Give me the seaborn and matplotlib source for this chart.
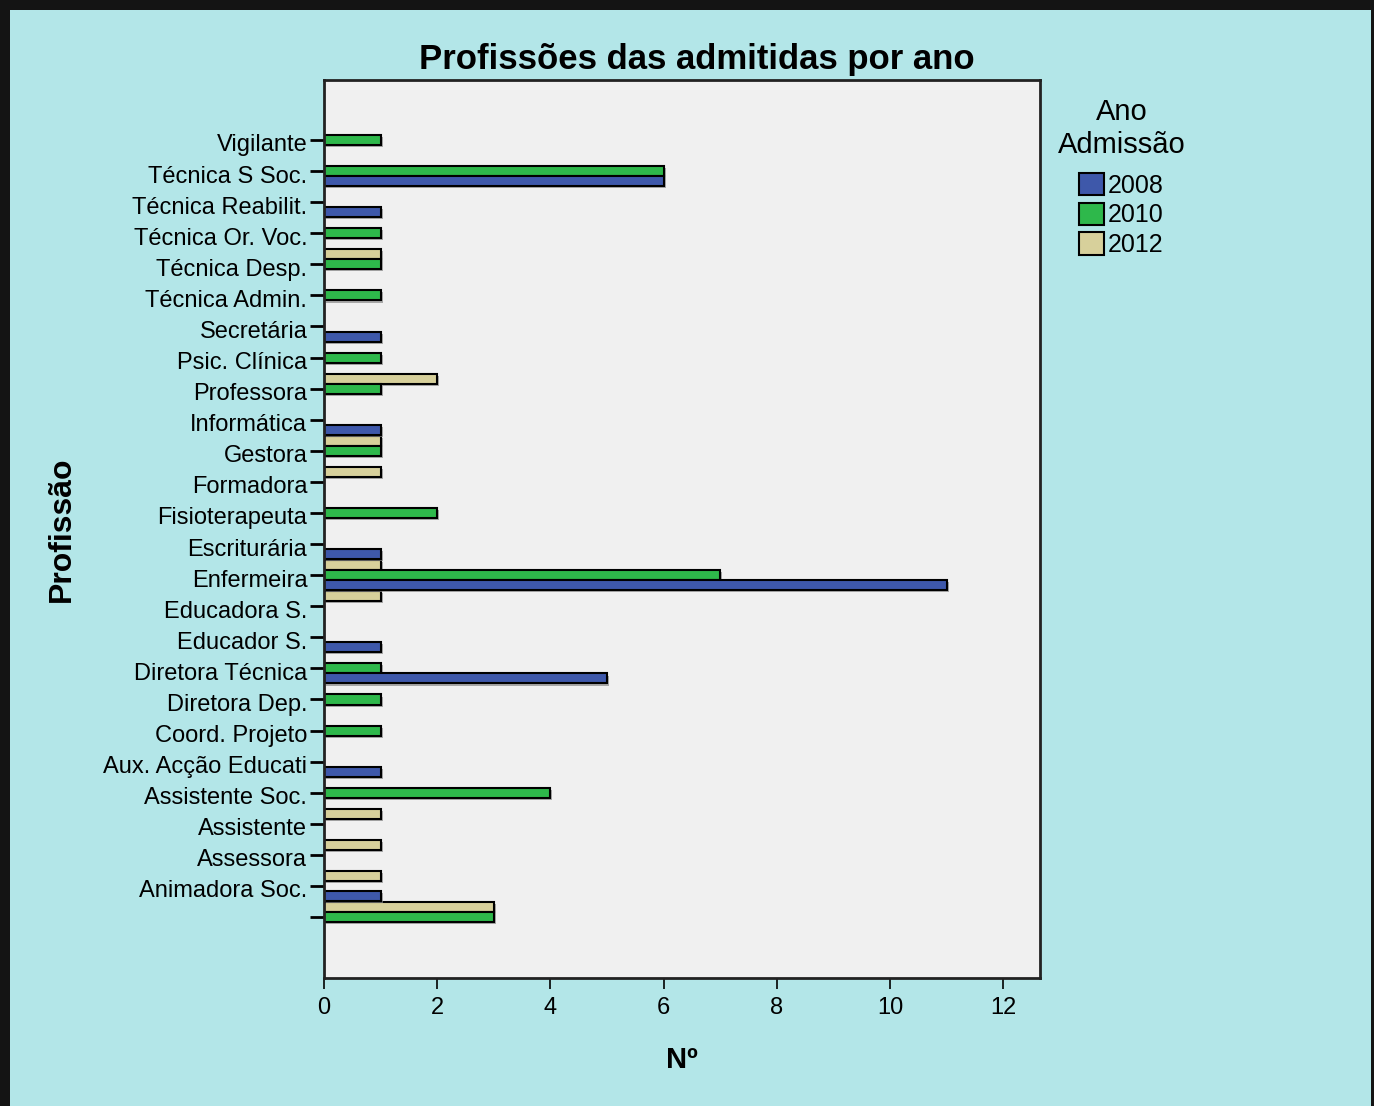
import matplotlib
matplotlib.use("Agg")
import matplotlib.pyplot as plt
import matplotlib.patheffects as pe
from matplotlib.patches import Rectangle, Patch
from matplotlib.transforms import ScaledTranslation
import pandas as pd
import seaborn as sns

# Categories top to bottom ("" = sem resposta)
professions = ["Vigilante", "Técnica S Soc.", "Técnica Reabilit.", "Técnica Or. Voc.",
               "Técnica Desp.", "Técnica Admin.", "Secretária", "Psic. Clínica",
               "Professora", "Informática", "Gestora", "Formadora", "Fisioterapeuta",
               "Escriturária", "Enfermeira", "Educadora S.", "Educador S.",
               "Diretora Técnica", "Diretora Dep.", "Coord. Projeto", "Aux. Acção Educati",
               "Assistente Soc.", "Assistente", "Assessora", "Animadora Soc.", ""]
n_2008 = [0, 6, 1, 0, 0, 0, 1, 0, 0, 1, 0, 0, 0, 1, 11, 0, 1, 5, 0, 0, 1, 0, 0, 0, 1, 0]
n_2010 = [1, 6, 0, 1, 1, 1, 0, 1, 1, 0, 1, 0, 2, 0, 7, 0, 0, 1, 1, 1, 0, 4, 0, 0, 0, 3]
n_2012 = [0, 0, 0, 0, 1, 0, 0, 0, 2, 0, 1, 1, 0, 0, 1, 1, 0, 0, 0, 0, 0, 0, 1, 1, 1, 3]
years = ["2008", "2010", "2012"]
colors = {"2008": "#3E58AA", "2010": "#2EB84B", "2012": "#D7D09B"}

rows = []
for yr, vals in zip(years, [n_2008, n_2010, n_2012]):
    for prof, v in zip(professions, vals):
        if v > 0:
            rows.append({"Profissão": prof, "Ano": yr, "N": v})
df = pd.DataFrame(rows)

sns.set_theme(style="white")
plt.rcParams["font.family"] = ["Liberation Sans", "DejaVu Sans"]
plt.rcParams["text.color"] = "black"
plt.rcParams["axes.labelcolor"] = "black"
plt.rcParams["xtick.color"] = "black"
plt.rcParams["ytick.color"] = "black"

fig = plt.figure(figsize=(13.74, 11.06), dpi=100)
fig.patch.set_facecolor("#141414")
fig.patches.append(Rectangle((10 / 1374, 0), 1361 / 1374, 1096 / 1106,
                             transform=fig.transFigure, facecolor="#B3E6E8",
                             edgecolor="none", zorder=-10))
ax = fig.add_axes([324 / 1374, 1 - 978 / 1106, 716 / 1374, 898 / 1106])
ax.set_facecolor("#F0F0F0")

sns.barplot(data=df, y="Profissão", x="N", hue="Ano", order=professions,
            hue_order=["2012", "2010", "2008"], palette=colors, orient="h",
            width=0.97, edgecolor="black", linewidth=1.5, dodge=True,
            saturation=1, legend=False, ax=ax)

for bar in ax.patches:
    bar.set_path_effects([pe.SimplePatchShadow(offset=(1.5, -1.5), shadow_rgbFace="#888888", alpha=0.7),
                          pe.Normal()])

ax.set_xlim(0, 12.65)
ax.set_ylim(26.96, -1.93)
ax.set_xticks(range(0, 13, 2))
ax.tick_params(axis="y", left=True, length=10, width=2, color="black", labelsize=17, pad=2)
ax.tick_params(axis="x", bottom=True, length=8, width=1.2, color="black", labelsize=17, pad=6)
shift = ScaledTranslation(0, -3 / 100, fig.dpi_scale_trans)
for lbl in ax.get_yticklabels():
    lbl.set_transform(lbl.get_transform() + shift)
for sp in ax.spines.values():
    sp.set_visible(True)
    sp.set_color("#222222")
    sp.set_linewidth(2)

ax.set_ylabel("Profissão", fontsize=23, fontweight="bold")
ax.yaxis.set_label_coords(-0.345, 0.5)
ax.set_xlabel("Nº", fontsize=21, fontweight="bold", labelpad=19)
fig.text(697 / 1374, 1 - 59 / 1106, "Profissões das admitidas por ano",
         ha="center", va="center", fontsize=25, fontweight="bold")

handles = [Patch(facecolor=colors[y], edgecolor="black", linewidth=1.5) for y in years]
leg = fig.legend(handles, years, title="Ano\nAdmissão", loc="upper left",
                 bbox_to_anchor=(1035 / 1374, 1 - 76 / 1106), frameon=False,
                 fontsize=18, title_fontsize=21, handlelength=1.0, handleheight=1.0,
                 handletextpad=0.15, labelspacing=0.2)
leg.get_title().set_multialignment("center")
leg._legend_box.sep = 10

fig.savefig("out.png", dpi=100, facecolor=fig.get_facecolor())
